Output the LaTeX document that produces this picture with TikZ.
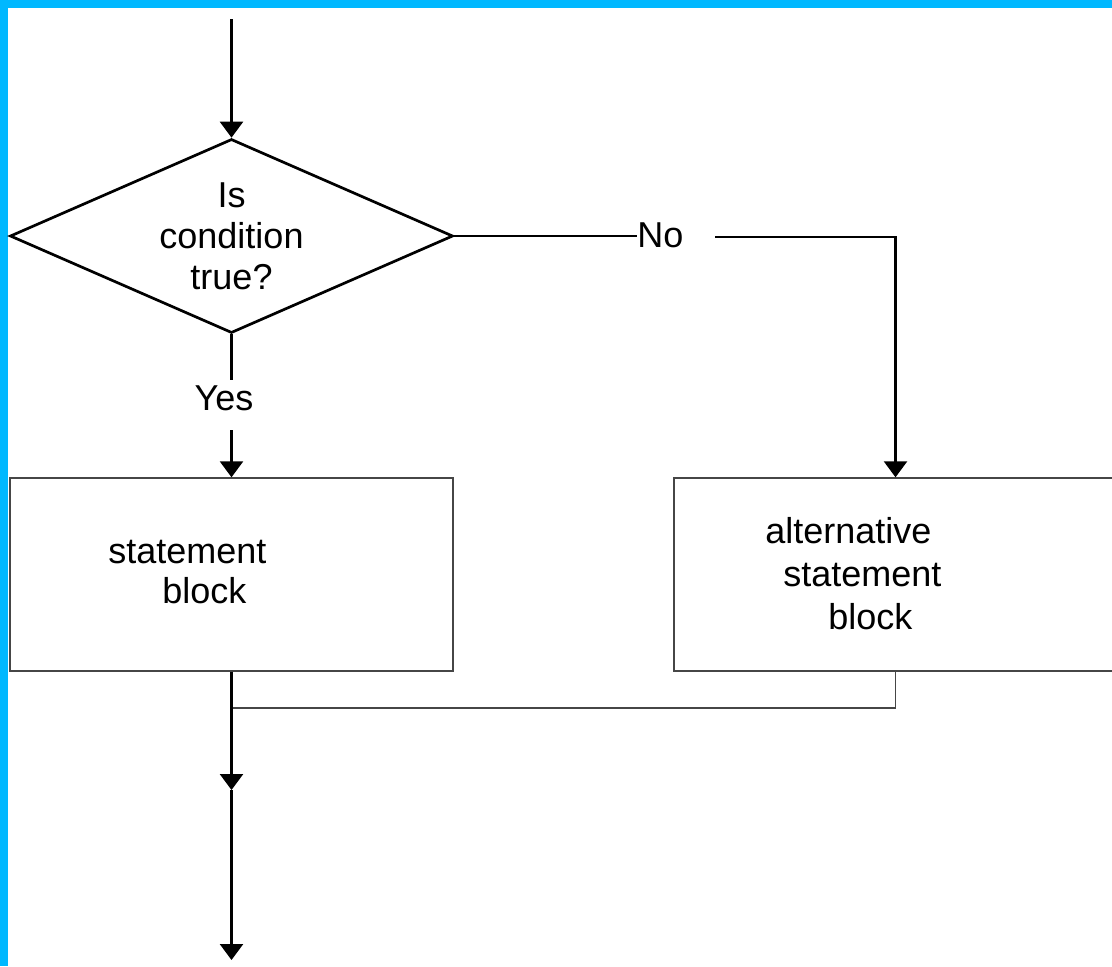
\documentclass[tikz,border=0pt]{standalone}
\usepackage{fontspec}
\setmainfont{Liberation Sans}
\usetikzlibrary{shapes.geometric,arrows.meta}
\definecolor{frameblue}{RGB}{0,184,255}
\definecolor{boxgray}{RGB}{70,70,70}
\begin{document}
\begin{tikzpicture}[x=0.5pt,y=-0.5pt,
  flow/.style={line width=1.25pt,black},
  arr/.style={flow,-{Triangle[width=11.5pt,length=8pt]}},
  thinline/.style={line width=0.7pt,boxgray},
  decision/.style={diamond,aspect=2.28,draw,line width=1.35pt,minimum width=221.5pt,minimum height=97pt,inner sep=0pt,align=center,font=\fontsize{18}{20.5}\selectfont},
  block/.style={rectangle,draw=boxgray,line width=0.7pt,minimum width=221.5pt,minimum height=96.5pt,inner sep=0pt},
  lbl/.style={inner sep=0pt,font=\fontsize{18}{20}\selectfont},
]
\useasboundingbox (0,0) rectangle (1112,966);
\clip (0,0) rectangle (1112,966);
\fill[white] (0,0) rectangle (1112,966);
\fill[frameblue] (0,0) rectangle (8,966);
\fill[frameblue] (0,0) rectangle (1112,8);

\coordinate (start) at (231.5,19);
\node[decision] (d) at (231.5,236) {Is\\condition\\true?};
\node[block] (sb) at (231.5,574.5) {};
\node[block] (alt) at (895.5,574.5) {};
\node[lbl,align=left,anchor=west] (sbt) at (108,572) {statement\\\hspace*{27pt}block};
\node[lbl,align=left,anchor=west,font=\fontsize{18}{21.5}\selectfont] (altt) at (765,574) {alternative\\\hspace*{9pt}statement\\\hspace*{31.5pt}block};

\node[lbl] (yes) at (224,398) {Yes};
\coordinate (yesa) at (231.5,380);
\coordinate (yesb) at (231.5,430);
\node[lbl,anchor=west] (no) at (637,235) {No};
\coordinate (nor) at (715,237);
\coordinate (join) at (231.5,708);
\coordinate (mid) at (231.5,790);
\coordinate (end) at (231.5,960);

\draw[arr] (start) -- (d.north);
\draw[flow] (d.south) -- (yesa);
\draw[arr] (yesb) -- (sb.north);
\draw[flow] (d.east) -- (d.east -| no.west);
\draw[arr] (nor) -| (alt.north);
\draw[thinline] (alt.south) |- (join);
\draw[arr] (sb.south) -- (mid);
\draw[arr] (mid) -- (end);
\end{tikzpicture}
\end{document}
